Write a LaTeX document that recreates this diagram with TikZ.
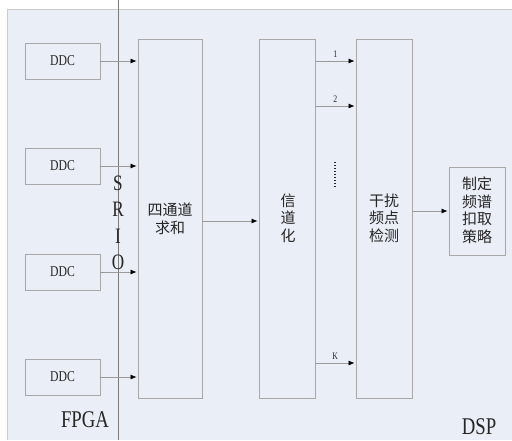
\documentclass[tikz,border=0pt]{standalone}
\usepackage{fontspec}
\setmainfont{Liberation Serif}
\newfontfamily\narrowserif[FakeStretch=0.78]{Liberation Serif}
\newfontfamily\cjk{Noto Sans CJK SC}
\usetikzlibrary{arrows.meta,calc}
\definecolor{bgc}{HTML}{E9EEF7}
\definecolor{boxc}{HTML}{A8A8A8}
\definecolor{vlinec}{HTML}{7A7A7A}
\definecolor{arrc}{HTML}{9A9A9A}
\definecolor{txtc}{HTML}{262626}
\tikzset{
  blk/.style={draw=boxc, line width=0.8pt, fill=bgc, inner sep=0pt},
  ddcbox/.style={blk, minimum width=75pt, minimum height=36pt, font=\narrowserif\fontsize{15}{15}\selectfont, text=txtc},
  cjktext/.style={font=\cjk\fontsize{15}{17.5}\selectfont, text=txtc, align=center},
  arr/.style={draw=arrc, line width=0.7pt, -{Latex[length=6pt,width=5pt,color=black]}, shorten >=1pt},
  biglbl/.style={font=\narrowserif\fontsize{24}{24}\selectfont, text=txtc},
  srio/.style={font=\narrowserif\fontsize{22}{22}\selectfont, text=txtc, inner sep=0pt},
  small/.style={font=\narrowserif\fontsize{10}{10}\selectfont, text=txtc, inner sep=1pt}
}
\begin{document}
\begin{tikzpicture}[x=1pt,y=-1pt]
\useasboundingbox (0,0) rectangle (512,440);
\fill[white] (0,0) rectangle (512,440);
\fill[bgc] (7,9) rectangle (512,440);
\draw[color=black!20, line width=0.8pt] (7,440) -- (7,9) -- (512,9);
% separator line
\coordinate (vtop) at (118,0);
\coordinate (vbot) at (118,440);
\draw[vlinec, line width=0.8pt] (vtop) -- (vbot);
% DDC boxes
\node[ddcbox] (d1) at (62.5,61) {DDC};
\node[ddcbox] (d2) at (62.5,166) {DDC};
\node[ddcbox] (d3) at (62.5,272) {DDC};
\node[ddcbox] (d4) at (62.5,377) {DDC};
% main blocks
\node[blk, minimum width=64pt, minimum height=359pt] (sum) at (170,218.5) {};
\node[cjktext] (sumt) at (170,219) {四通道\\求和};
\node[blk, minimum width=56pt, minimum height=359pt] (chan) at (287,218.5) {};
\node[cjktext] (chant) at (288,218) {信\\道\\化};
\node[blk, minimum width=56pt, minimum height=359pt] (det) at (384,218.5) {};
\node[cjktext] (dett) at (384,218) {干扰\\频点\\检测};
\node[blk, minimum width=56pt, minimum height=88pt] (strat) at (477,211) {};
\node[cjktext] (stratt) at (477,210) {制定\\频谱\\扣取\\策略};
% SRIO
\node[srio] (s) at (118,183) {S};
\node[srio] (r) at (118,209) {R};
\node[srio] (i) at (118,236) {I};
\node[srio] (o) at (118,262) {O};
% labels
\node[biglbl] (fpga) at (85,420) {FPGA};
\node[biglbl] (dsp) at (479,427) {DSP};
% arrows DDC -> sum
\foreach \d in {d1,d2,d3,d4}{
  \draw[arr] (\d.east) -- (\d.east -| sum.west);
}
\draw[arr] (sum.east |- 0,221) -- (chan.west |- 0,221);
\draw[arr] (det.east |- strat.west) -- (strat.west);
% channel arrows
\coordinate (c1) at (315,61);
\coordinate (c2) at (315,106);
\coordinate (ck) at (315,363);
\draw[arr] (c1) -- node[small, above=2pt] {1} (c1 -| det.west);
\draw[arr] (c2) -- node[small, above=2pt] {2} (c2 -| det.west);
\draw[arr] (ck) -- node[small, above=2pt] {K} (ck -| det.west);
% dots
\coordinate (dt) at (335,162);
\coordinate (db) at (335,187);
\draw[black!85, line width=1.6pt, dash pattern=on 1.4pt off 1.6pt] (dt) -- (db);
\end{tikzpicture}
\end{document}
